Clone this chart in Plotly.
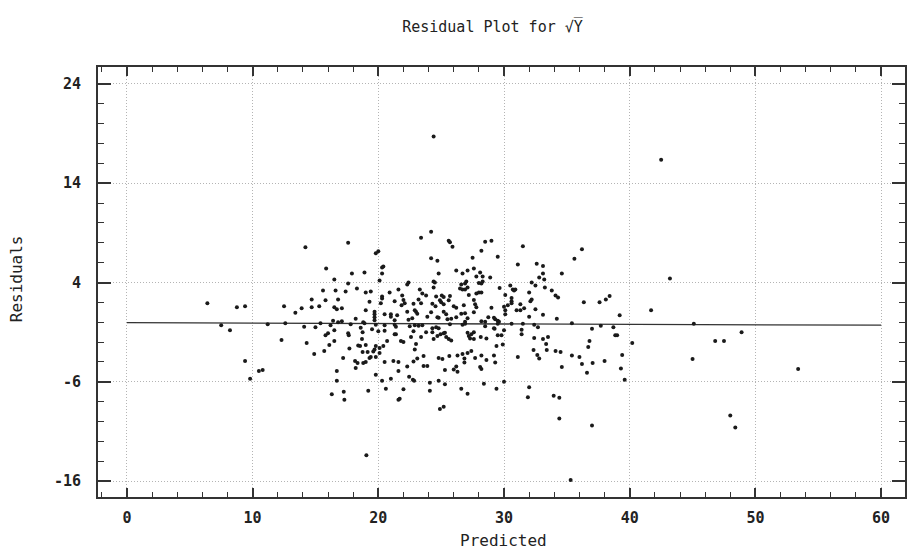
import plotly.graph_objects as go

# ---- data ----
predicted = [
    6.4, 7.5, 8.2, 8.75, 9.4, 9.4, 9.8, 10.5, 10.8, 11.2, 12.3, 12.5, 12.6, 13.4,
    14.2, 17.6, 19.8, 20.0, 20.3, 20.3, 20.4, 15.85, 16.5, 17.9, 18.9, 17.6, 20.1, 15.6, 16.6, 17.4,
    18.3, 19.0, 19.4, 20.9, 20.3, 20.3, 14.7, 15.8, 16.8, 19.3, 20.2, 21.3, 13.9, 14.7, 15.3, 16.5,
    16.7, 17.1, 19.0, 19.7, 19.7, 19.7, 19.7, 20.5, 21.0, 21.0, 21.5, 21.3, 18.2, 16.4, 16.8, 17.1,
    18.8, 18.9, 15.4,
    14.1, 15.0, 16.2, 17.8, 18.6, 19.5, 19.8, 20.0, 20.5, 20.5, 21.3, 21.3, 15.8, 16.0, 16.5, 17.6,
    17.65, 18.75, 18.7, 14.3, 16.5, 16.1, 15.7, 14.9, 17.7, 18.4, 18.55, 19.0, 19.15, 18.75, 19.6, 19.7,
    19.8, 20.1, 20.1, 20.4, 20.7, 17.2, 18.15, 18.35, 18.2, 18.8, 19.0, 19.3, 19.4, 19.8, 20.5, 21.2,
    21.6, 16.7, 21.6, 19.8, 16.7, 20.3, 21.0, 20.6, 19.2, 17.25, 16.3, 17.3, 21.6,
    24.2, 23.4, 25.6, 25.7, 25.9, 28.5, 29.0, 28.2, 27.5, 24.2, 24.7, 29.5, 24.8, 26.2, 26.7, 27.1,
    27.6, 28.1, 28.3, 27.8, 28.9, 28.3, 28.2, 28.0, 24.4, 24.5, 24.4, 22.4, 22.3, 26.6, 26.9, 27.0,
    26.5, 26.7, 26.9, 27.1, 27.8, 28.0, 28.2, 21.6, 23.3, 23.5, 21.9, 23.8, 24.6, 25.05, 25.2, 25.7,
    27.2, 22.0, 22.1, 23.2, 23.4, 24.9, 25.0, 25.2, 25.6, 27.6, 27.7, 27.8, 21.85, 22.8, 24.3, 24.55,
    26.0, 26.2, 26.8, 29.0, 22.9, 23.0, 23.1, 22.3, 24.2, 25.2, 25.4, 26.6, 26.9, 27.6, 23.9, 24.7,
    24.8, 26.2, 27.1, 28.75, 29.2, 22.4, 22.7, 25.5, 25.8, 28.2, 28.5, 26.9,
    21.4, 22.5, 22.9, 23.2, 23.5, 24.3, 24.6, 24.8, 25.7, 26.7, 26.9, 28.5, 29.2, 21.4, 21.8, 22.0,
    22.6, 22.8, 23.0, 23.4, 22.9, 23.8, 24.3, 24.4, 24.7, 24.95, 25.2, 25.3, 25.4, 25.6, 25.8, 27.1,
    27.2, 27.4, 27.6, 27.6, 27.3, 28.15, 28.6, 29.5, 23.6, 23.1, 22.8, 23.6, 23.9, 22.3, 24.8, 25.1,
    25.65, 26.3, 26.7, 27.1, 27.4, 26.85, 26.85, 27.7, 28.2, 28.6, 29.2, 29.3, 25.3, 26.0, 26.2, 26.3,
    28.1, 28.2, 22.45, 22.75, 22.85, 24.8, 24.1, 25.3, 28.4, 22.0, 24.1, 26.6, 27.1, 29.4, 21.7, 25.2,
    24.9,
    31.5, 36.2, 35.6, 31.1, 32.6, 33.1, 33.1, 32.8, 33.2, 34.6, 32.2, 32.5, 33.25, 30.5, 30.7, 30.8,
    30.9, 29.65, 32.0, 33.8, 34.1, 34.3, 30.1, 30.6, 30.6, 30.6, 32.2, 32.1, 36.35, 37.6, 30.3, 30.0,
    31.3, 31.6, 31.0, 31.3, 30.1, 30.1, 32.5, 33.1, 32.0, 34.2, 29.3, 29.5, 29.6, 29.5, 35.4,
    30.6, 31.5, 32.4, 37.7, 29.25, 30.0, 29.8, 29.9, 31.4, 31.4, 32.7, 37.0, 29.4, 32.4, 33.1, 33.5,
    33.35, 33.4, 32.35, 32.65, 32.8, 34.1, 34.5, 34.6, 36.8, 36.7, 35.4, 36.0, 36.2, 37.05, 36.6, 31.1,
    30.0, 32.0, 31.9, 33.95, 34.4, 34.4, 37.0,
    42.5, 43.2, 38.1, 38.4, 39.2, 41.7, 38.7, 45.1, 38.85, 39.0, 40.2, 48.9, 46.8, 47.5, 39.4, 38.0,
    39.3, 45.0, 53.4, 39.6, 48.0, 48.4,
    24.4, 19.05, 35.3,
]

residuals = [
    1.9, -0.3, -0.8, 1.5, 1.6, -3.9, -5.7, -4.9, -4.8, -0.2, -1.8, 1.6, -0.1, 0.95,
    7.55, 8.0, 6.95, 7.15, 5.5, 4.9, 5.6, 5.4, 4.3, 4.9, 5.0, 3.9, 4.2, 3.2, 3.2, 3.1,
    3.4, 3.0, 3.1, 3.0, 2.6, 2.4, 2.3, 2.2, 2.3, 2.05, 1.9, 2.1, 1.4, 1.5, 1.6, 1.5,
    1.3, 1.4, 1.2, 1.05, 0.8, 0.5, 0.2, 0.8, 0.8, 0.55, 0.7, 0.2, 0.35, 0.15, 0.0, 0.1,
    0.0, -0.1, -0.1,
    -0.45, -0.5, -0.3, -0.2, -0.55, -0.7, -0.25, -0.9, -0.85, -0.3, -0.25, -1.2, -1.3, -1.1, -0.8, -1.1,
    -1.3, -1.0, -1.7, -2.1, -1.9, -2.3, -2.9, -3.2, -2.65, -2.35, -2.4, -2.3, -3.0, -3.0, -2.95, -2.75,
    -2.4, -2.6, -3.1, -2.4, -1.9, -3.6, -3.9, -4.1, -4.6, -4.1, -4.0, -3.6, -3.5, -3.5, -4.0, -3.9,
    -4.0, -4.9, -4.9, -5.3, -5.9, -5.9, -5.7, -6.7, -6.9, -7.0, -7.25, -7.8, -7.8,
    9.1, 8.5, 8.2, 8.05, 7.6, 8.1, 8.2, 7.2, 6.5, 6.45, 6.2, 6.6, 4.9, 5.2, 4.9, 5.2,
    5.4, 5.0, 4.6, 4.6, 4.5, 4.1, 3.9, 3.95, 4.1, 4.0, 3.5, 4.0, 3.8, 3.8, 3.9, 4.1,
    3.4, 3.3, 3.3, 3.5, 2.9, 3.0, 3.0, 3.3, 3.3, 2.9, 2.7, 2.7, 2.6, 2.7, 2.55, 2.65,
    2.75, 2.25, 1.9, 2.3, 1.9, 2.2, 2.0, 1.8, 2.2, 2.25, 1.8, 1.5, 1.7, 1.85, 1.85, 1.6,
    1.6, 1.45, 1.7, 1.45, 1.2, 1.05, 0.85, 1.05, 1.0, 1.05, 0.8, 0.85, 0.9, 1.0, 0.55, 0.5,
    0.45, 0.5, 0.4, 0.5, 0.45, 0.25, 0.4, 0.3, 0.35, 0.1, 0.05, 0.05,
    -0.45, -0.4, -0.3, -0.35, -0.3, -0.6, -0.5, -0.6, -0.2, -0.25, -0.15, -0.4, -0.6, -1.2, -1.9, -2.0,
    -1.5, -0.9, -2.2, -1.5, -2.75, -1.0, -1.0, -1.7, -1.4, -1.2, -1.1, -1.05, -1.5, -1.7, -1.85, -1.05,
    -1.4, -1.2, -1.0, -1.7, -1.65, -1.5, -1.65, -1.3, -3.4, -3.65, -3.95, -4.4, -4.4, -4.45, -3.6, -3.7,
    -3.4, -3.35, -3.2, -3.1, -2.9, -3.65, -4.05, -3.6, -3.35, -3.8, -3.35, -4.05, -4.8, -4.75, -4.45, -5.0,
    -4.5, -4.7, -5.5, -5.8, -5.9, -5.9, -6.1, -6.25, -6.2, -6.75, -6.9, -6.7, -7.2, -6.7, -7.7, -8.5,
    -8.75,
    7.65, 7.35, 6.4, 5.8, 5.9, 5.65, 4.9, 4.5, 4.3, 4.9, 4.0, 3.7, 3.5, 3.7, 3.3, 3.2,
    3.3, 3.45, 3.0, 3.2, 2.7, 2.5, 2.75, 2.45, 2.1, 1.9, 2.3, 2.1, 2.0, 2.0, 1.7, 1.55,
    1.8, 1.4, 1.2, 1.2, 1.2, 0.8, 1.3, 0.75, 0.55, 0.35, 0.3, 0.15, 0.05, -0.15, -0.1,
    -0.15, -0.15, -0.25, -0.35, -0.65, -0.8, -1.3, -2.25, -0.75, -1.2, -0.5, -0.65, -2.4, -1.6, -1.7, -1.5,
    -2.2, -2.8, -2.8, -3.3, -3.65, -2.9, -3.0, -4.5, -1.9, -2.5, -3.35, -3.5, -4.2, -4.1, -5.1, -3.5,
    -6.0, -6.55, -7.55, -7.4, -7.6, -9.7, -10.4,
    16.35, 4.4, 2.3, 2.65, 0.7, 1.2, -0.5, -0.15, -1.3, -1.3, -2.1, -1.0, -1.9, -1.9, -3.3, -3.9,
    -4.65, -3.7, -4.7, -5.8, -9.4, -10.6,
    18.7, -13.4, -15.9,
]

# fitted line (endpoints)
fit_x = [0, 60]
fit_y = [-0.05, -0.3]

x_ticks = [0, 10, 20, 30, 40, 50, 60]
y_ticks = [-16, -6, 4, 14, 24]

title_text = "Residual Plot for √Y\u0305"
x_title = "Predicted"
y_title = "Residuals"

FONT = "DejaVu Sans Mono"
INK = "#222222"

fig = go.Figure()
fig.add_trace(go.Scatter(
    x=fit_x, y=fit_y, mode="lines",
    line=dict(color="#333333", width=1.3),
    hoverinfo="skip", showlegend=False,
))
fig.add_trace(go.Scatter(
    x=predicted, y=residuals, mode="markers",
    marker=dict(color="#1a1a1a", size=4, symbol="circle"),
    showlegend=False,
))

axis_common = dict(
    showline=True, linecolor="#333333", linewidth=2,
    mirror="allticks", ticks="inside", tickcolor="#333333", tickwidth=1.5,
    showgrid=True, gridcolor="#b4b4b4", gridwidth=1, griddash="1px,2px",
    zeroline=False,
    tickfont=dict(family=FONT, size=15, color=INK, weight="bold"),
)

fig.update_xaxes(
    range=[-2.3, 61.9], tickvals=x_ticks, ticktext=[str(v) for v in x_ticks],
    ticklen=9,
    minor=dict(ticks="inside", ticklen=5, dtick=2, tick0=0, tickcolor="#333333", tickwidth=1.2, showgrid=False),
    ticklabelstandoff=6,
    **axis_common,
)
fig.update_yaxes(
    range=[-17.6, 25.7], tickvals=y_ticks, ticktext=[str(v) for v in y_ticks],
    ticklen=13,
    minor=dict(ticks="inside", ticklen=6, dtick=2, tick0=0, tickcolor="#333333", tickwidth=1.2, showgrid=False),
    ticklabelstandoff=12,
    **axis_common,
)

fig.update_layout(
    width=907, height=550, autosize=False,
    margin=dict(l=98, r=0, t=67, b=53),
    paper_bgcolor="white", plot_bgcolor="white",
    title=dict(text=title_text, x=0.543, xanchor="center", y=0.952, yanchor="middle",
               font=dict(family=FONT, size=15, color=INK)),
    annotations=[
        dict(text=x_title, xref="paper", yref="paper", x=(505 - 98) / 809, y=-(540 - 497) / 430,
             xanchor="center", yanchor="middle", showarrow=False,
             font=dict(family=FONT, size=16, color=INK)),
        dict(text=y_title, xref="paper", yref="paper", x=-(98 - 16) / 809, y=(497 - 279) / 430,
             xanchor="center", yanchor="middle", showarrow=False, textangle=-90,
             font=dict(family=FONT, size=16, color=INK)),
    ],
)

fig.write_html("out.html")
